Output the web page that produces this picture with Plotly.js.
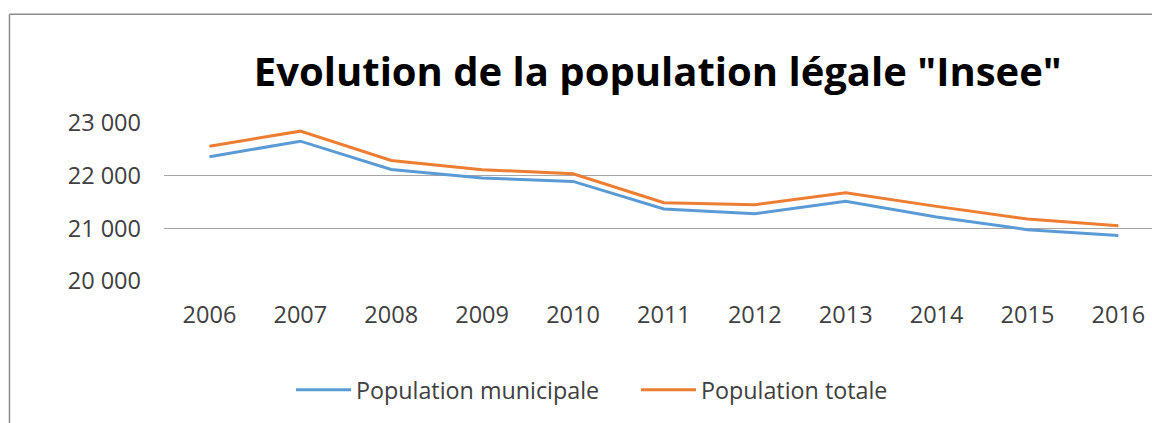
<!DOCTYPE html>
<html>
<head>
<meta charset="utf-8">
<script src="https://cdn.plot.ly/plotly-3.0.1.min.js"></script>
<style>
html,body{margin:0;padding:0;background:#fff;overflow:hidden;}
#chart{width:1152px;height:423px;}
</style>
</head>
<body>
<div id="chart"></div>
<script>
const years = [2006, 2007, 2008, 2009, 2010, 2011, 2012, 2013, 2014, 2015, 2016];
const popMunicipale = [22359, 22655, 22118, 21954, 21891, 21366, 21279, 21512, 21214, 20975, 20862];
const popTotale = [22560, 22845, 22289, 22113, 22037, 21487, 21449, 21677, 21417, 21176, 21051];
const seriesNames = ["Population municipale", "Population totale"];
const yTicks = [20000, 21000, 22000, 23000];
const titleText = 'Evolution de la population légale "Insee"';

const FONT = "'Open Sans', sans-serif";

const traces = [
  {x: years, y: popMunicipale, name: seriesNames[0], type: 'scatter', mode: 'lines',
   line: {color: '#5B9BD5', width: 3}},
  {x: years, y: popTotale, name: seriesNames[1], type: 'scatter', mode: 'lines',
   line: {color: '#ED7D31', width: 3}}
];

const layout = {
  width: 1152, height: 423,
  margin: {l: 164, r: 0, t: 122.5, b: 142.3},
  paper_bgcolor: '#fff', plot_bgcolor: '#fff',
  separators: ', ',
  font: {family: FONT, color: '#404040', size: 23},
  title: {text: titleText, x: 0.571, xanchor: 'center', xref: 'container',
          y: 0.83, yanchor: 'middle', yref: 'container',
          font: {family: FONT, size: 40, color: '#000', weight: 'bold'}},
  xaxis: {range: [2005.5, 2016.37], tickvals: years, tickformat: 'd',
          showgrid: false, zeroline: false, showline: false, ticks: '',
          ticklabelstandoff: 17, fixedrange: true,
          tickfont: {family: FONT, size: 23.5, color: '#404040'}},
  yaxis: {range: [20000, 23000], tickvals: yTicks, tickformat: ',d',
          showgrid: true, gridcolor: '#a6a6a6', gridwidth: 1.5, zeroline: false,
          showline: false, ticks: '', ticklabelstandoff: 22, fixedrange: true,
          tickfont: {family: FONT, size: 23.5, color: '#404040'}},
  showlegend: true,
  legend: {orientation: 'h', x: 0.1285, xanchor: 'left', xref: 'paper',
           y: 0.078, yanchor: 'middle', yref: 'container',
           font: {family: FONT, size: 23.3, color: '#404040'},
           itemwidth: 55, entrywidth: 275, entrywidthmode: 'pixels',
           tracegroupgap: 0, bgcolor: 'rgba(0,0,0,0)'},
  shapes: [
    {type: 'line', xref: 'paper', yref: 'paper', x0: -0.1564, x1: 1.02, y0: 1.689, y1: 1.689,
     line: {color: '#8c8c8c', width: 1.5}},
    {type: 'line', xref: 'paper', yref: 'paper', x0: -0.1564, x1: -0.1564, y0: 1.689, y1: -0.95,
     line: {color: '#8c8c8c', width: 1.5}}
  ]
};

Plotly.newPlot('chart', traces, layout, {displayModeBar: false, staticPlot: true});
</script>
</body>
</html>
